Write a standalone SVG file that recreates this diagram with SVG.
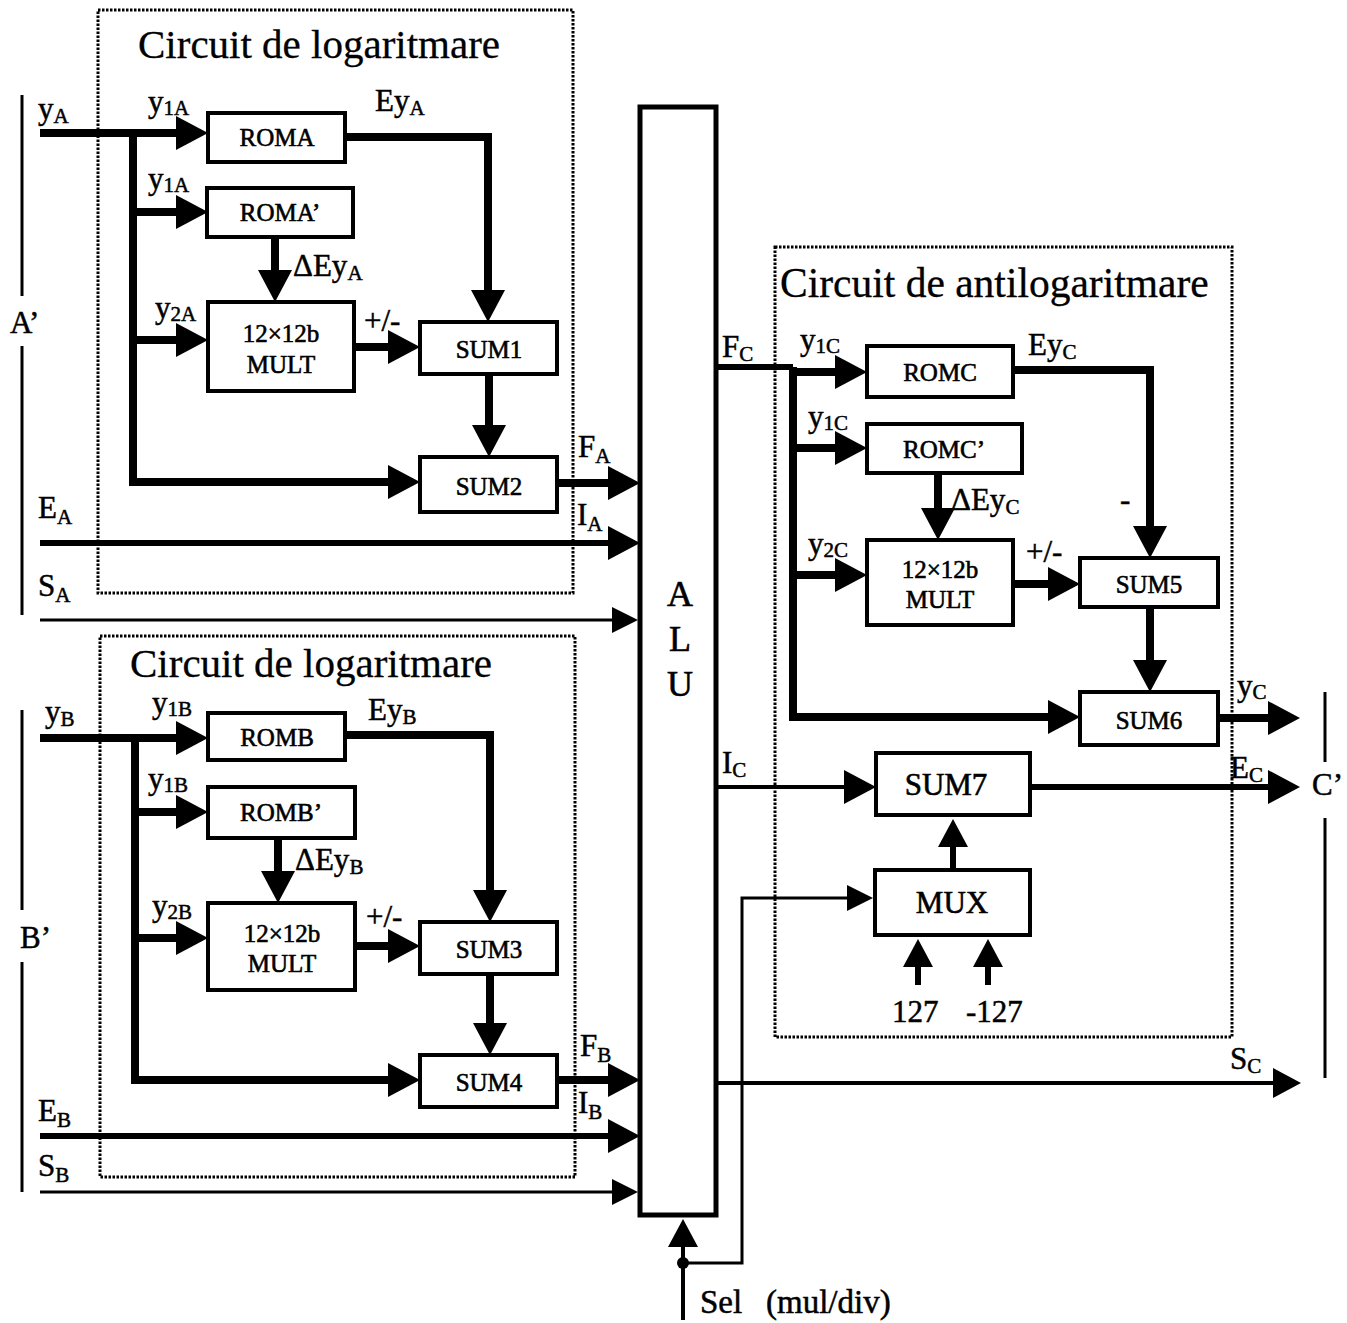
<svg xmlns="http://www.w3.org/2000/svg" width="1347" height="1323" viewBox="0 0 1347 1323">
  <style>
    text { font-family: "Liberation Serif", "Times New Roman", serif; fill: #000; stroke: #000; stroke-width: 0.5; }
    .lbl { font-size: 31px; }
    .sub { font-size: 21px; }
    .bx { font-size: 25px; text-anchor: middle; stroke-width: 0.6; }
    .bxl { font-size: 31px; text-anchor: middle; stroke-width: 0.6; }
    .ttl { font-size: 41px; stroke-width: 0.3; }
    .box { fill: #fff; stroke: #000; stroke-width: 4; }
    .alu { fill: #fff; stroke: #000; stroke-width: 5; }
    .frame { fill: none; stroke: #000; stroke-width: 3; stroke-dasharray: 2.5 1.5; }
    .bus { fill: none; stroke: #000; stroke-width: 8; }
    .w6 { fill: none; stroke: #000; stroke-width: 6; }
    .w4 { fill: none; stroke: #000; stroke-width: 4; }
    .w3 { fill: none; stroke: #000; stroke-width: 3; }
    .big { marker-end: url(#arrBig); }
    .mid { marker-end: url(#arrMid); }
    .sm { marker-end: url(#arrSm); }
  </style>
  <defs>
    <marker id="arrBig" markerUnits="userSpaceOnUse" viewBox="0 0 32 34" markerWidth="32" markerHeight="34" refX="20" refY="17" orient="auto">
      <path d="M0,0 L32,17 L0,34 z" fill="#000"/>
    </marker>
    <marker id="arrMid" markerUnits="userSpaceOnUse" viewBox="0 0 28 30" markerWidth="28" markerHeight="30" refX="16" refY="15" orient="auto">
      <path d="M0,0 L28,15 L0,30 z" fill="#000"/>
    </marker>
    <marker id="arrSm" markerUnits="userSpaceOnUse" viewBox="0 0 26 26" markerWidth="26" markerHeight="26" refX="14" refY="13" orient="auto">
      <path d="M0,0 L26,13 L0,26 z" fill="#000"/>
    </marker>
  </defs>
  <rect width="1347" height="1323" fill="#fff"/>

  <!-- dotted frames of the three sub-circuits -->
  <g id="frames">
    <rect class="frame" x="98" y="10" width="475" height="583"/>
    <rect class="frame" x="100" y="636" width="475" height="541"/>
    <rect class="frame" x="775" y="247" width="457" height="790"/>
    <text class="ttl" x="138" y="58">Circuit de logaritmare</text>
    <text class="ttl" x="130" y="677">Circuit de logaritmare</text>
    <text class="ttl" x="780" y="297" style="font-size:41.5px">Circuit de antilogaritmare</text>
  </g>

  <!-- operand / result port brackets -->
  <g id="ports">
    <line class="w3" x1="22" y1="95" x2="22" y2="296"/>
    <line class="w3" x1="22" y1="346" x2="22" y2="615"/>
    <line class="w3" x1="22" y1="710" x2="22" y2="910"/>
    <line class="w3" x1="22" y1="962" x2="22" y2="1192"/>
    <line class="w3" x1="1325" y1="692" x2="1325" y2="762"/>
    <line class="w3" x1="1325" y1="818" x2="1325" y2="1078"/>
    <text class="lbl" x="10" y="333">A’</text>
    <text class="lbl" x="20" y="948">B’</text>
    <text class="lbl" x="1312" y="795">C’</text>
  </g>

  <!-- connectors -->
  <g id="connectors">
    <!-- operand A -->
    <path class="bus big" d="M40,133 H196"/>
    <path class="bus big" d="M133,133 V482 H408"/>
    <path class="bus big" d="M133,212 H196"/>
    <path class="bus big" d="M133,340 H196"/>
    <path class="bus big" d="M345,137 H488 V310"/>
    <path class="bus big" d="M275,237 V290"/>
    <path class="bus big" d="M354,347 H408"/>
    <path class="bus big" d="M489,374 V445"/>
    <path class="bus big" d="M557,483 H628"/>
    <path class="w6 big" d="M40,543 H628"/>
    <path class="w3 sm" d="M40,620 H626"/>
    <!-- operand B -->
    <path class="bus big" d="M40,738 H196"/>
    <path class="bus big" d="M135,738 V1080 H408"/>
    <path class="bus big" d="M135,812 H196"/>
    <path class="bus big" d="M135,938 H196"/>
    <path class="bus big" d="M345,735 H490 V910"/>
    <path class="bus big" d="M278,838 V891"/>
    <path class="bus big" d="M355,946 H408"/>
    <path class="bus big" d="M490,974 V1043"/>
    <path class="bus big" d="M557,1080 H628"/>
    <path class="w6 big" d="M40,1136 H628"/>
    <path class="w3 sm" d="M40,1192 H626"/>
    <!-- result C -->
    <path class="w6" d="M716,367 H793"/>
    <path class="bus big" d="M793,367 V717 H1068"/>
    <path class="bus big" d="M793,372 H855"/>
    <path class="bus big" d="M793,448 H855"/>
    <path class="bus big" d="M793,575 H855"/>
    <path class="bus big" d="M1013,370 H1150 V546"/>
    <path class="bus big" d="M938,473 V528"/>
    <path class="bus big" d="M1013,584 H1068"/>
    <path class="bus big" d="M1150,607 V680"/>
    <path class="bus big" d="M1218,718 H1288"/>
    <path class="w4 big" d="M716,787 H864"/>
    <path class="w6 big" d="M1030,787 H1288"/>
    <path class="w6 mid" d="M953,868 V831"/>
    <path class="w6 mid" d="M918,985 V951"/>
    <path class="w6 mid" d="M988,985 V951"/>
    <path class="w4 mid" d="M716,1083 H1289"/>
    <!-- operation select -->
    <path class="w4 mid" d="M683,1320 V1231"/>
    <path class="w3 sm" d="M683,1263 H742 V898 H861"/>
    <circle cx="683" cy="1263" r="6" fill="#000"/>
  </g>

  <!-- ALU -->
  <g id="alu">
    <rect class="alu" x="640" y="107" width="76" height="1108"/>
    <text class="bxl" style="font-size:36px" x="680" y="606">A</text>
    <text class="bxl" style="font-size:36px" x="680" y="651">L</text>
    <text class="bxl" style="font-size:36px" x="680" y="696">U</text>
  </g>

  <!-- logarithm circuit A -->
  <g id="roma"><rect class="box" x="208" y="113" width="137" height="49"/><text class="bx" x="277" y="146">ROMA</text></g>
  <g id="roma2"><rect class="box" x="207" y="188" width="146" height="49"/><text class="bx" x="280" y="221">ROMA’</text></g>
  <g id="multa"><rect class="box" x="208" y="302" width="146" height="89"/><text class="bx" x="281" y="342">12×12b</text><text class="bx" x="281" y="373">MULT</text></g>
  <g id="sum1"><rect class="box" x="420" y="322" width="137" height="52"/><text class="bx" x="489" y="358">SUM1</text></g>
  <g id="sum2"><rect class="box" x="420" y="457" width="137" height="55"/><text class="bx" x="489" y="495">SUM2</text></g>

  <!-- logarithm circuit B -->
  <g id="romb"><rect class="box" x="208" y="713" width="137" height="47"/><text class="bx" x="277" y="746">ROMB</text></g>
  <g id="romb2"><rect class="box" x="208" y="787" width="147" height="51"/><text class="bx" x="281" y="821">ROMB’</text></g>
  <g id="multb"><rect class="box" x="208" y="903" width="147" height="87"/><text class="bx" x="282" y="942">12×12b</text><text class="bx" x="282" y="972">MULT</text></g>
  <g id="sum3"><rect class="box" x="420" y="922" width="137" height="52"/><text class="bx" x="489" y="958">SUM3</text></g>
  <g id="sum4"><rect class="box" x="420" y="1055" width="137" height="52"/><text class="bx" x="489" y="1091">SUM4</text></g>

  <!-- antilogarithm circuit C -->
  <g id="romc"><rect class="box" x="867" y="346" width="146" height="51"/><text class="bx" x="940" y="381">ROMC</text></g>
  <g id="romc2"><rect class="box" x="867" y="424" width="155" height="49"/><text class="bx" x="944" y="458">ROMC’</text></g>
  <g id="multc"><rect class="box" x="867" y="540" width="146" height="85"/><text class="bx" x="940" y="578">12×12b</text><text class="bx" x="940" y="608">MULT</text></g>
  <g id="sum5"><rect class="box" x="1080" y="558" width="138" height="49"/><text class="bx" x="1149" y="593">SUM5</text></g>
  <g id="sum6"><rect class="box" x="1080" y="692" width="138" height="53"/><text class="bx" x="1149" y="729">SUM6</text></g>
  <g id="sum7"><rect class="box" x="876" y="753" width="154" height="62"/><text class="bxl" x="946" y="795">SUM7</text></g>
  <g id="mux"><rect class="box" x="875" y="870" width="155" height="65"/><text class="bxl" x="952" y="913">MUX</text></g>

  <!-- signal labels -->
  <g id="labels">
    <text class="lbl" x="38" y="119">y<tspan class="sub" dy="4">A</tspan></text>
    <text class="lbl" x="148" y="112">y<tspan class="sub" dy="3">1A</tspan></text>
    <text class="lbl" x="375" y="111">Ey<tspan class="sub" dy="4">A</tspan></text>
    <text class="lbl" x="148" y="189">y<tspan class="sub" dy="3">1A</tspan></text>
    <text class="lbl" x="293" y="276">ΔEy<tspan class="sub" dy="4">A</tspan></text>
    <text class="lbl" x="155" y="318">y<tspan class="sub" dy="3">2A</tspan></text>
    <text class="lbl" x="364" y="331">+/-</text>
    <text class="lbl" x="578" y="457">F<tspan class="sub" dy="6">A</tspan></text>
    <text class="lbl" x="38" y="518">E<tspan class="sub" dy="6">A</tspan></text>
    <text class="lbl" x="577" y="525">I<tspan class="sub" dy="6">A</tspan></text>
    <text class="lbl" x="38" y="596">S<tspan class="sub" dy="6">A</tspan></text>

    <text class="lbl" x="45" y="722">y<tspan class="sub" dy="4">B</tspan></text>
    <text class="lbl" x="152" y="713">y<tspan class="sub" dy="3">1B</tspan></text>
    <text class="lbl" x="368" y="720">Ey<tspan class="sub" dy="4">B</tspan></text>
    <text class="lbl" x="148" y="789">y<tspan class="sub" dy="3">1B</tspan></text>
    <text class="lbl" x="295" y="870">ΔEy<tspan class="sub" dy="4">B</tspan></text>
    <text class="lbl" x="152" y="916">y<tspan class="sub" dy="3">2B</tspan></text>
    <text class="lbl" x="366" y="927">+/-</text>
    <text class="lbl" x="580" y="1056">F<tspan class="sub" dy="6">B</tspan></text>
    <text class="lbl" x="38" y="1121">E<tspan class="sub" dy="6">B</tspan></text>
    <text class="lbl" x="578" y="1113">I<tspan class="sub" dy="6">B</tspan></text>
    <text class="lbl" x="38" y="1176">S<tspan class="sub" dy="6">B</tspan></text>

    <text class="lbl" x="722" y="357">F<tspan class="sub" dy="4">C</tspan></text>
    <text class="lbl" x="800" y="350">y<tspan class="sub" dy="3">1C</tspan></text>
    <text class="lbl" x="1028" y="355">Ey<tspan class="sub" dy="4">C</tspan></text>
    <text class="lbl" x="808" y="427">y<tspan class="sub" dy="3">1C</tspan></text>
    <text class="lbl" x="951" y="510">ΔEy<tspan class="sub" dy="4">C</tspan></text>
    <text class="lbl" x="1120" y="510">-</text>
    <text class="lbl" x="808" y="554">y<tspan class="sub" dy="3">2C</tspan></text>
    <text class="lbl" x="1026" y="562">+/-</text>
    <text class="lbl" x="1237" y="696">y<tspan class="sub" dy="3">C</tspan></text>
    <text class="lbl" x="722" y="773">I<tspan class="sub" dy="4">C</tspan></text>
    <text class="lbl" x="1230" y="778">E<tspan class="sub" dy="4">C</tspan></text>
    <text class="lbl" x="892" y="1022">127</text>
    <text class="lbl" x="966" y="1022">-127</text>
    <text class="lbl" x="1230" y="1069">S<tspan class="sub" dy="4">C</tspan></text>
    <text class="lbl" style="font-size:33px" x="700" y="1313">Sel<tspan x="766">(mul/div)</tspan></text>
  </g>
</svg>
